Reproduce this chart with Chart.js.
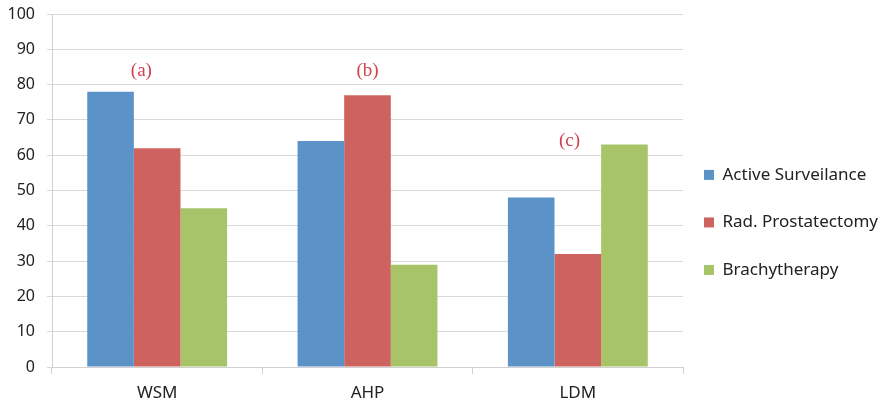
<!DOCTYPE html>
<html>
<head>
<meta charset="utf-8">
<script src="https://cdn.jsdelivr.net/npm/chart.js@4/dist/chart.umd.min.js"></script>
<style>
  html, body { margin: 0; padding: 0; background: #fff; }
  #wrap { width: 880px; height: 404px; }
</style>
</head>
<body>
<div id="wrap"><canvas id="chart" width="880" height="404"></canvas></div>
<script>
// datos
const categorias = ['WSM', 'AHP', 'LDM'];
const activeSurveilance = [78, 64, 48];
const radProstatectomy = [62, 77, 32];
const brachytherapy = [45, 29, 63];

// etiquetas (a), (b), (c): posicion en indice de categoria y valor del eje y
const notaTextos = ['(a)', '(b)', '(c)'];
const notaX = [-0.075, 1.0, 1.96];
const notaY = [83.8, 83.8, 64.1];

// plugin simple para dibujar las notas usando las escalas
const notasPlugin = {
    id: 'notas',
    afterDatasetsDraw(chart) {
        const ctx = chart.ctx;
        const xs = chart.scales.x;
        const ys = chart.scales.y;
        ctx.save();
        ctx.font = '19px "Liberation Serif", serif';
        ctx.fillStyle = '#d3404f';
        ctx.textAlign = 'center';
        ctx.textBaseline = 'middle';
        for (let i = 0; i < notaTextos.length; i++) {
            ctx.fillText(notaTextos[i], xs.getPixelForValue(notaX[i]), ys.getPixelForValue(notaY[i]));
        }
        ctx.restore();
    }
};

const ctx = document.getElementById('chart').getContext('2d');
new Chart(ctx, {
    type: 'bar',
    data: {
        labels: categorias,
        datasets: [
            { label: 'Active Surveilance', data: activeSurveilance, backgroundColor: '#5b93c9' },
            { label: 'Rad. Prostatectomy', data: radProstatectomy, backgroundColor: '#cd625e' },
            { label: 'Brachytherapy', data: brachytherapy, backgroundColor: '#a8c468' }
        ]
    },
    options: {
        responsive: false,
        animation: false,
        layout: { padding: { top: 14, right: 2, left: 7, bottom: 0 } },
        datasets: { bar: { categoryPercentage: 0.665, barPercentage: 1.0 } },
        scales: {
            x: {
                grid: { offset: true, drawOnChartArea: false, tickLength: 7, color: '#d0d0d0' },
                border: { color: '#d0d0d0' },
                ticks: { color: '#222', font: { family: '"Noto Sans", sans-serif', size: 17 }, padding: 9 },
                afterFit(s) { s.height = 37; s.paddingLeft = 0; s.paddingRight = 0; }
            },
            y: {
                min: 0, max: 100,
                ticks: { stepSize: 10, color: '#222', font: { family: '"Noto Sans", sans-serif', size: 16 }, padding: 12 },
                grid: { color: '#d9d9d9', tickLength: 5 },
                border: { color: '#d0d0d0' },
                afterFit(s) { s.width = 45; s.paddingTop = 0; s.paddingBottom = 0; }
            }
        },
        plugins: {
            legend: {
                position: 'right',
                maxWidth: 195,
                title: { display: true, text: '', padding: 11, font: { size: 12 } },
                labels: {
                    boxWidth: 10, boxHeight: 10, padding: 21,
                    color: '#222',
                    font: { family: '"Noto Sans", sans-serif', size: 17, lineHeight: 1.56 },
                    // texto como arreglo para que la altura de cada fila use lineHeight
                    generateLabels(chart) {
                        const items = Chart.defaults.plugins.legend.labels.generateLabels(chart);
                        items.forEach(it => { it.text = [it.text]; });
                        return items;
                    }
                }
            },
            tooltip: { enabled: false }
        }
    },
    plugins: [notasPlugin]
});
</script>
</body>
</html>
